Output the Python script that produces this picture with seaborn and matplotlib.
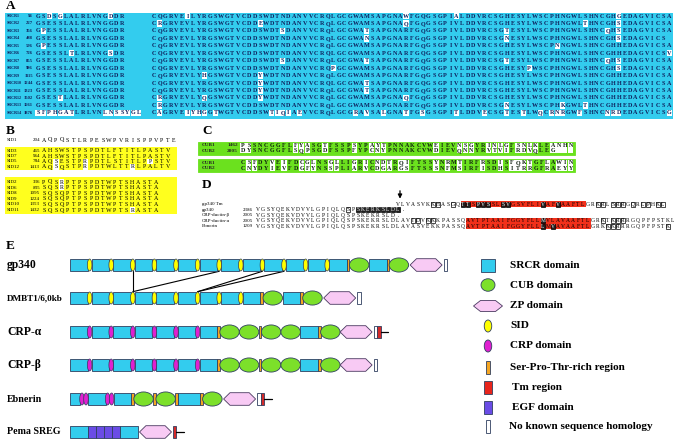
import matplotlib
matplotlib.use("Agg")
import matplotlib.pyplot as plt
import seaborn as sns
from matplotlib.patches import Rectangle, Ellipse, Polygon

# ---------------- data ----------------
# panel A: SRCR alignment
srcr_names = ["SRCR1", "SRCR2", "SRCR3", "SRCR4", "SRCR5", "SRCR6", "SRCR7",
              "SRCR8", "SRCR9", "SRCR10", "SRCR11", "SRCR12", "SRCR13", "SRCR14"]
srcr_starts = [94, 227, 356, 488, 596, 726, 855, 986, 1115, 1244, 1323, 1502, 1661, 1876]
srcr_cons1 = "GSESSLALRLVNGGDR"
srcr_cons2 = "CQGRVEVLYRGSWGTVCDDSWDTNDANVVCRQLGCGWAMSAPGNARFGQGSGPIVLDDVRCSGHESYLWSCPHNGWLSHNCGHHEDAGVICSA"
srcr_seg1 = [
    "GSDSGLALRLVNGDDR", "GSESSLALRLVNGGDR", "GPESSLALRLVNGGDR", "GSESSLALRLVNGGDR",
    "GPESSLALRLVNGGDR", "GSESSLTLRLVNGSDR", "GSESSLALRLVNGGDR", "GSESSLALRLVNGGDR",
    "GSESSLALRLVNGGDR", "GSESSLALRLVNGGDR", "GSESSLALRLVNGGDR", "GSESTLALRLVNGGDR",
    "GSESSLALRLVNGGDR", "SFPHGATLRLVNLNSSYGL",
]
srcr_seg2 = [
    "CQGRVEILYRGSWGTVCDDSWDTNDANVVCRQLGCGWAMSAPGNAWFGQGSGPIALDDVRCSGHESYLWSCPHNGWLSHNCGHGEDAGVICSA",
    "CRGRVEVLYRGSWGTVCDDEWDTNDANVVCRQLGCGWAMSAPGNAQFGQGSGPIVLDDVRCSGHESYLWSCPHNGWLTHNCGHSEDAGVICSA",
    "CQGRVEVLYRGSWGTVCDDSWDTSDANVVCRQLGCGWATSAPGNARFGQGSGPIVLDDVRCSGTESYLWSCPHNGWLSHNCQHSEDAGVICSA",
    "CQGRVEVLYRGSWGTVCDDSWDTNDANVVCRQLGCGWANSAPGNARFGQGSGPIVLDDVRCSGNESYLWSCPHNGWLSHNCGHSEDAGVICS",
    "CQGRVEVLYRGSWGTVCDDSWDTNDANVVCRQLGCGWAMSAPGNARFGQGSGPIVLDDVRCSGHESYLWSCPNNGWLSHNCGHHEDAGVICSA",
    "CQGRVEVLYRGSWGTVCDDSWDTNDANVVCRQLGCGWAMSAPGNARFGQGSGPIVLDDVRCSGHESYLWSCPHNGWLSHNCGHHEDAGVICSV",
    "CQGRVEVLYRGSWGTVCDDSWDTSDANVVCRQLGCGWATSAPGNARFGQGSGPIVLDDVRCSGTESYLWSCPHNGWLSHNCQHSEDAGVICSA",
    "CQGRVEVLYRGSWGTVCDDSWDTNDANVVCRQPGCGWAMSAPGNARFGQGSGPIVLDDVRCSGHESYPWSCPHNGWLSHNCGHSEDAGVICSA",
    "CQGRVEVLYHGSWGTVCDDYWDTNDANVVCRQLGCGWAMSAPGNARFGQGSGPIVLDDVRCSGHESYLWSCPHNGWLSHNCGHHEDAGVICSA",
    "CQGRVEVLYRGSWGTVCDDYWDTNDANVVCRQLGCGWATSAPGNARFGQGSGPIVLDDVRCSGHESYLWSCPHNGWLSHNCGHHEDAGVICSA",
    "CQGRVEVLYRGSWGTVCDDYWDTNDANVVCRQLGCGWATSAPGNARFGQGSGPIVLDDVRCSGHESYLWSCPHNGWLSHNCGHHEDAGVICSA",
    "CRGRVEVLYQGSWGTVCDDYWDTNDANVVCRQLGCGWAMSAPGNAQFGQGSGPIVLDDVRCSGHESYLWSCPHNGWLSHNCGHHEDAGVICSA",
    "CRGRVEVLYRGSWGTVCDDSWDTNDANVVCRQLGCGWAMSAPGNARFGQGSGPIVLDDVRCSGNESYLWSCPHKGWLTHNCGHHEDAGVICSA",
    "CAGRVEIYHGGTWGTVCDDSWTIQIAEVVCRQLGCGRAVSALGNATFGSGSGPITLDDVECSGTESTLWQCRNRGWFSHNCNRDEDAGVICSG",
]

# panel B: SID alignment
sid_head = ["SID1", "204", "AQPQSTLRPESWPVRISPPVPTE"]
sid1_names = ["SID3", "SID7", "SID5", "SID12"]
sid1_nums = ["465", "964", "784", "1413"]
sid1_seqs = ["AHSWSTPSPDTLFTITLPASTV", "AHSWSTPSPDTLFTITLPASTV",
             "AQSESTPRPDTLSTITLPPSTV", "AQSQSTPRPDTWLTTRLPALTV"]
sid1_marks = [[], [], [2, 7, 18], [2, 7, 15]]
sid2_names = ["SID2", "SID6", "SID8", "SID9", "SID10", "SID11"]
sid2_nums = ["336", "835", "1095", "1224", "1353", "1432"]
sid2_seqs = ["PQSRPTPSPDTWPTSHASTA", "SQSRPTPSPDTWPTSHASTA", "SQSQPTPSPDTWPTSHASTA",
             "SQSQPTPSPDTWPTSHASTA", "SQSQPTPSPDTWPTSHASTA", "SQSQPTPSPDTWPTSRASTA"]
sid2_marks = [[3], [3], [], [], [], [15]]

# panel C: CUB alignment
cub_a_labels = ["CUB1", "CUB2"]
cub_a_nums = ["1462", "2005"]
cub_a_seqs = ["PSSNCGGFLFYASGTFSSPSYPAYTPNNAKCVWEIEVNSGYRINLGFSNLKLEANHN",
              "DYSNCGGFLSQPSGDFSSPFYPCNYPNNAKCVWDIEVQNNYRVTVIFRDVQLEG"]
cub_b_seqs = ["CSFDYVEIFDCGLNSGLLIGRICNDTRQIFTSSYNRMTIRFRSDISFQKTGFLAWIN",
              "CNYDYIEVFDGFYNSSPLIARVCDGARGSFTSSSNFMSIRFISDHSITRRGFRAEYY"]

# panel D: C-terminal alignment
d_labels = ["gp340 Tm", "gp340", "CRP-ductin-\u03b2", "CRP-ductin-\u03b1", "Ebnerin"]
d_nums = ["", "2386", "2005", "2005", "1209"]
d_seqs = [
    "                            VLVASVKKHASGQTTSPVSSLSVGSVFLIVAFVAAFTLGRKRLSRRGQRLPHKL",
    "VGSYQEKVDVVLGPIQLQSPSKERKSLDL.",
    "VGSYQEKVDVVLGPIQLQSPSKEKRSLD.",
    "VGSYQEKVDVVLGPIQLQSPSKEKRSLDLAVIDVKKKPASSQAVTPTAAIFGGYFLLMVLAVAAFTLGRKTKRRRGQPFPSTKL",
    "VGSYQEKVDVVLGPIQLQSPSKEKRSLDLAVASVEKKPASSQAVTPTAAIFGGYFLLLMVAVAAFTLGRKKKRRRGQPFPSTK",
]
d_red = [(41, 65), None, None, (42, 66), (42, 66)]
d_boxes = [[35, 36, 39, 41, 42, 44, 45, 46, 49, 50, 57, 60, 68, 69, 71, 72, 73, 75, 77, 78, 80, 81],
           [18, 20, 21, 22, 23, 24, 25, 26, 27, 28],
           [],
           [31, 32, 34, 35, 57, 69, 71, 72, 73],
           [57, 59, 70, 71, 72, 82]]

# panel E: domain organisation
prot_names = ["gp340", "DMBT1/6,0kb", "CRP-\u03b1", "CRP-\u03b2", "Ebnerin", "Pema SREG"]
prot_sizes = [8.4, 6.6, 8.4, 8.4, 7.2, 7.2]
prot_domains = [
    ["SRCR", "SID", "SRCR", "SID", "SRCR", "SID", "SRCR", "SID", "SRCR", "SID", "SRCR", "SID",
     "SRCR", "SID", "SRCR", "SID", "SRCR", "SID", "SRCR", "SID", "SRCR", "SID", "SRCR", "SID",
     "SRCR", "SPT", "CUB", "SRCR", "SPT", "CUB", "GAP", "ZP", "GAP", "NK"],
    ["SRCR", "SID", "SRCR", "SID", "SRCR", "SID", "SRCR", "SID", "SRCR", "SID", "SRCR", "SID",
     "SRCR", "SID", "SRCR", "SID", "SRCR", "SPT", "CUB", "SRCR", "SPT", "CUB", "GAP", "ZP", "GAP", "NK"],
    ["SRCR", "CRP", "SRCR", "CRP", "SRCR", "CRP", "SRCR", "CRP", "SRCR", "CRP", "SRCR", "CRP",
     "SRCR", "SPT", "CUB", "CUB", "SPT", "CUB", "CUB", "SRCR", "SPT", "CUB", "ZP", "GAP", "NK", "TM", "TAIL"],
    ["SRCR", "CRP", "SRCR", "CRP", "SRCR", "CRP", "SRCR", "CRP", "SRCR", "CRP", "SRCR", "CRP",
     "SRCR", "SPT", "CUB", "CUB", "SPT", "CUB", "CUB", "SRCR", "SPT", "CUB", "ZP", "GAP", "NK"],
    ["SRCRs", "CRPh", "CRPh", "SRCR", "CRPh", "CRPh", "SRCR", "SPT", "CUB", "SPT", "CUB", "SPT",
     "SRCRl", "SPT", "CUB", "GAP", "ZP", "GAP", "NK", "TM", "TAIL"],
    ["SRCR", "EGF", "EGF", "EGF", "EGF", "SRCR", "GAP", "ZP", "GAP", "TM", "TAIL"],
]
# SID links gp340 -> DMBT1 (index of SID in each row)
sid_links = [(2, 2), (6, 2), (8, 5), (9, 5)]

legend_labels = ["SRCR domain", "CUB domain", "ZP domain", "SID", "CRP domain",
                 "Ser-Pro-Thr-rich region", "Tm region", "EGF domain", "No known sequence homology"]
legend_codes = ["SRCR", "CUB", "ZP", "SID", "CRP", "SPT", "TMl", "EGF", "NK"]

# ---------------- style ----------------
sns.set_theme(style="white")
plt.rcParams['font.family'] = ['Liberation Serif', 'DejaVu Serif']

CYAN = "#33CCEE"
YEL = "#FFFF1E"
GRN = "#6BE11E"
RED = "#F2301A"
NAVY = "#0E1F5C"
fills = {"SRCR": CYAN, "SRCRs": CYAN, "SRCRl": CYAN, "SID": "#FFFF00", "CRP": "#E020D0",
         "CRPh": "#E020D0", "SPT": "#F5A623", "CUB": "#7CE02A", "ZP": "#F8CAF4", "NK": "white",
         "TM": "#D42A2A", "TMl": "#E8251C", "EGF": "#6A4CE6"}
widths = {"SRCR": 17.6, "SRCRs": 10.0, "SRCRl": 22.0, "SID": 4.0, "CRP": 4.0, "CRPh": 4.0,
          "SPT": 2.6, "CUB": 19.5, "ZP": 32.0, "NK": 3.6, "TM": 3.4, "EGF": 8.2, "TAIL": 7.5, "GAP": 1.5}
EDGE = "#2F3F5F"

fig = plt.figure(figsize=(6.76, 4.43), dpi=100)
ax = fig.add_axes([0, 0, 1, 1])
ax.set_xlim(0, 676)
ax.set_ylim(443, 0)
ax.axis('off')


def put_seq(seq, x0, w, y, fs, color, marks, cell_h, face='white', weight='normal'):
    for i, ch in enumerate(seq):
        if ch == ' ':
            continue
        x = x0 + i * w
        if i in marks:
            ax.add_patch(Rectangle((x - w / 2 + 0.2, y - cell_h / 2), w - 0.4, cell_h,
                                   facecolor=face, edgecolor='none', zorder=2))
        ax.text(x, y, ch, ha='center', va='center', fontsize=fs, color=color,
                fontweight=weight, zorder=3)


def panel_label(x, y, s):
    ax.text(x, y, s, ha='left', va='center', fontsize=9.5, fontweight='bold', color='black')


# ---------------- A ----------------
panel_label(6, 6, "A")
ax.add_patch(Rectangle((5, 12.5), 668, 106, facecolor=CYAN, edgecolor='none', zorder=1))
a_w = 5.6
for r, name in enumerate(srcr_names):
    y = 16 + r * 7.45
    ax.text(6.5, y, name, ha='left', va='center', fontsize=3.0, fontweight='bold', color=NAVY, zorder=3)
    ax.text(33, y, str(srcr_starts[r]), ha='right', va='center', fontsize=3.3, fontweight='bold',
            color=NAVY, zorder=3)
    s1 = srcr_seg1[r]
    m1 = [i for i, c in enumerate(s1) if i >= len(srcr_cons1) or c != srcr_cons1[i]]
    put_seq(s1, 38, a_w, y, 4.4, NAVY, m1, 6.4, weight='bold')
    s2 = srcr_seg2[r]
    m2 = [i for i, c in enumerate(s2) if c != srcr_cons2[i]]
    put_seq(s2, 154, a_w, y, 4.4, NAVY, m2, 6.4, weight='bold')

# ---------------- B ----------------
panel_label(6, 131, "B")
b_w = 5.9
b_x0 = 44
ax.text(7, 140, sid_head[0], ha='left', va='center', fontsize=3.6, color='black')
ax.text(40, 140, sid_head[1], ha='right', va='center', fontsize=3.6, color='black')
put_seq(sid_head[2], b_x0, b_w, 140, 4.3, 'black', [], 5.5)
ax.add_patch(Rectangle((5, 146.5), 172, 23, facecolor=YEL, edgecolor='none', zorder=1))
for r, name in enumerate(sid1_names):
    y = 150.5 + r * 5.5
    ax.text(7, y, name, ha='left', va='center', fontsize=3.6, color='black', zorder=3)
    ax.text(40, y, sid1_nums[r], ha='right', va='center', fontsize=3.6, color='black', zorder=3)
    put_seq(sid1_seqs[r], b_x0, b_w, y, 4.3, 'black', sid1_marks[r], 5.2)
ax.add_patch(Rectangle((5, 177), 172, 37, facecolor=YEL, edgecolor='none', zorder=1))
for r, name in enumerate(sid2_names):
    y = 182 + r * 5.6
    ax.text(7, y, name, ha='left', va='center', fontsize=3.6, color='black', zorder=3)
    ax.text(40, y, sid2_nums[r], ha='right', va='center', fontsize=3.6, color='black', zorder=3)
    put_seq(sid2_seqs[r], b_x0, b_w, y, 4.3, 'black', sid2_marks[r], 5.2)

# ---------------- C ----------------
panel_label(202, 131, "C")
c_w = 5.85
c_x0 = 243


def cub_block(top, seqs, labels, nums):
    ax.add_patch(Rectangle((198, top), 377, 13, facecolor=GRN, edgecolor=GRN, lw=0.6, zorder=1))
    n = max(len(s) for s in seqs)
    for i in range(n):
        a = seqs[0][i] if i < len(seqs[0]) else ' '
        b = seqs[1][i] if i < len(seqs[1]) else ' '
        if a != b:
            ax.add_patch(Rectangle((c_x0 + i * c_w - c_w / 2 + 0.3, top + 1.1), c_w - 0.6, 10.8,
                                   facecolor='white', edgecolor='none', zorder=2))
    for k in range(2):
        y = top + 3.8 + k * 5.6
        ax.text(202, y, labels[k], ha='left', va='center', fontsize=3.8, fontweight='bold', zorder=3)
        if nums:
            ax.text(238, y, nums[k], ha='right', va='center', fontsize=3.8, fontweight='bold', zorder=3)
        put_seq(seqs[k], c_x0, c_w, y, 4.3, '#102010', [], 5, weight='bold')


cub_block(141.5, cub_a_seqs, cub_a_labels, cub_a_nums)
cub_block(159, cub_b_seqs, cub_a_labels, None)

# ---------------- D ----------------
panel_label(202, 185, "D")
d_w = 5.0
d_x0 = 258
ax.annotate("", xy=(400, 201.5), xytext=(400, 188),
            arrowprops=dict(arrowstyle="-|>", color='black', lw=0.9, mutation_scale=6))
for r, lab in enumerate(d_labels):
    y = 204 + r * 5.5
    ax.text(202, y, lab, ha='left', va='center', fontsize=3.6, color='black')
    ax.text(243, y, d_nums[r], ha='left', va='center', fontsize=3.6, color='black')
    if d_red[r] is not None:
        a, b = d_red[r]
        ax.add_patch(Rectangle((d_x0 + a * d_w - d_w / 2, y - 2.8), (b - a + 1) * d_w, 5.6,
                               facecolor=RED, edgecolor='none', zorder=1))
    seq = d_seqs[r]
    for i in d_boxes[r]:
        x = d_x0 + i * d_w
        inside = d_red[r] is not None and d_red[r][0] <= i <= d_red[r][1]
        dark = inside or r == 1 and i >= 20
        ax.add_patch(Rectangle((x - d_w / 2 + 0.2, y - 2.5), d_w - 0.4, 5.0,
                               facecolor='#202020' if dark else 'white',
                               edgecolor='black', lw=0.5, zorder=2))
    for i, ch in enumerate(seq):
        if ch == ' ':
            continue
        x = d_x0 + i * d_w
        inside = d_red[r] is not None and d_red[r][0] <= i <= d_red[r][1]
        dark = i in d_boxes[r] and (inside or r == 1 and i >= 20)
        ax.text(x, y, ch, ha='center', va='center', fontsize=4.0,
                color='white' if dark else 'black', zorder=3)

# ---------------- E ----------------
panel_label(6, 246, "E")
prot_y = [265, 298, 332, 365, 399, 432]
DH = 12.6


def draw_domain(code, x, y, w):
    if code in ("SRCR", "SRCRs", "SRCRl", "SPT", "NK", "TM", "TMl", "EGF"):
        ax.add_patch(Rectangle((x, y - DH / 2), w, DH, facecolor=fills[code],
                               edgecolor=EDGE, lw=0.6, zorder=3))
    elif code in ("SID", "CRP", "CRPh"):
        ax.add_patch(Ellipse((x + w / 2, y), w + 0.6, DH * 0.95, facecolor=fills[code],
                             edgecolor=EDGE, lw=0.5, zorder=4))
    elif code == "CUB":
        ax.add_patch(Ellipse((x + w / 2, y), w, DH * 1.12, facecolor=fills[code],
                             edgecolor=EDGE, lw=0.6, zorder=3))
    elif code == "ZP":
        c = w * 0.2
        pts = [(x, y), (x + c, y - DH / 2), (x + w - c, y - DH / 2), (x + w, y),
               (x + w - c, y + DH / 2), (x + c, y + DH / 2)]
        ax.add_patch(Polygon(pts, closed=True, facecolor=fills[code], edgecolor="#4A3A60",
                             lw=0.6, zorder=3))
    elif code == "TAIL":
        ax.plot([x, x + w], [y, y], color='black', lw=0.9, zorder=3)


sid_x = []
for p, name in enumerate(prot_names):
    y = prot_y[p]
    ax.text(7, y, name, ha='left', va='center', fontsize=prot_sizes[p], fontweight='bold', color='black')
    x = 70.0
    sids = []
    for code in prot_domains[p]:
        w = widths[code]
        draw_domain(code, x, y, w)
        if code == "SID":
            sids.append(x + w / 2)
        x += w
    sid_x.append(sids)

for a, b in sid_links:
    ax.plot([sid_x[0][a], sid_x[1][b]], [prot_y[0] + DH / 2, prot_y[1] - DH / 2],
            color='black', lw=0.8, zorder=2)

# legend
leg_y = [265, 285, 306, 326, 346, 367, 387.5, 407.5, 426.5]
leg_w = {"SRCR": 14, "CUB": 14, "ZP": 29, "SID": 7.5, "CRP": 7.5, "SPT": 4.5, "TMl": 7.5,
         "EGF": 7.5, "NK": 4}
for k, lab in enumerate(legend_labels):
    code = legend_codes[k]
    y = leg_y[k]
    w = leg_w[code]
    cx = 488
    if code in ("SRCR", "SPT", "TMl", "EGF", "NK"):
        ax.add_patch(Rectangle((cx - w / 2, y - 6.5), w, 13, facecolor=fills[code],
                               edgecolor=EDGE, lw=0.6))
    elif code == "CUB":
        ax.add_patch(Ellipse((cx, y), w, 12.5, facecolor=fills[code], edgecolor=EDGE, lw=0.6))
    elif code in ("SID", "CRP"):
        ax.add_patch(Ellipse((cx, y), w, 12, facecolor=fills[code], edgecolor=EDGE, lw=0.6))
    elif code == "ZP":
        c = 7
        x0 = cx - w / 2
        pts = [(x0, y), (x0 + c, y - 5.5), (x0 + w - c, y - 5.5), (x0 + w, y),
               (x0 + w - c, y + 5.5), (x0 + c, y + 5.5)]
        ax.add_patch(Polygon(pts, closed=True, facecolor=fills[code], edgecolor="#4A3A60", lw=0.6))
    tx = 512 if code in ("TMl", "EGF") else (509 if code == "NK" else 510)
    ax.text(tx, y, lab, ha='left', va='center', fontsize=8.1, fontweight='bold', color='black')

fig.savefig("out.png", dpi=100)
